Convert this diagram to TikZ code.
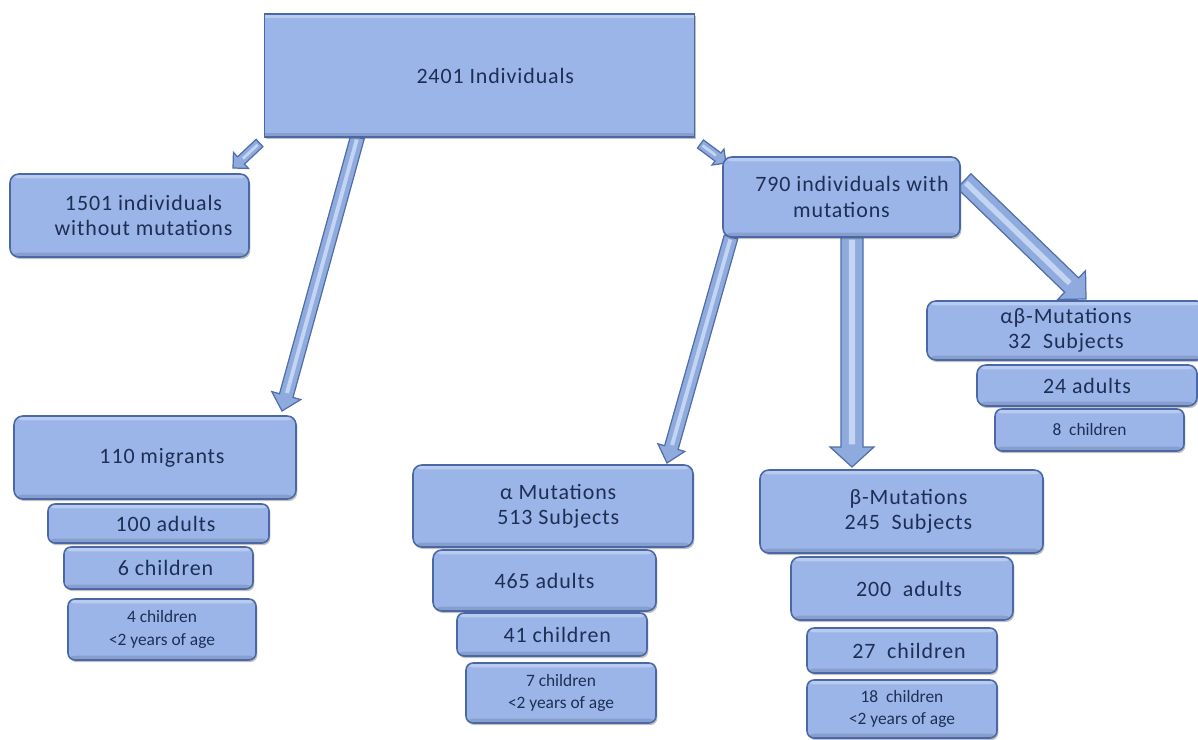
\documentclass[tikz,border=0pt]{standalone}
\usepackage{fontspec}
\setmainfont{Carlito}
\newfontfamily\spaced{Carlito}[LetterSpace=4]
\usetikzlibrary{calc,shadows}
\definecolor{boxfill}{HTML}{9BB5E9}
\definecolor{boxedge}{HTML}{4A68A6}
\definecolor{txt}{HTML}{1E2E55}
\definecolor{arrfill}{HTML}{8FAADD}
\definecolor{arredge}{HTML}{4F6EAA}
\definecolor{arrhi}{HTML}{C4D5F3}
\pgfdeclarelayer{bg}
\pgfsetlayers{bg,main}
\newcommand\mainsz{\spaced\fontsize{12.5}{14.4}\selectfont}
\newcommand\smallsz{\fontsize{9.9}{13}\selectfont}
\newcommand\barrow[5]{%
  \pgfmathsetmacro\bsw{#3*0.02}%
  \pgfmathsetmacro\bhw{#4*0.02}%
  \pgfmathsetmacro\bhl{#5*0.02}%
  \pgfmathsetmacro\bhi{#3*0.02*0.55}%
  \coordinate (hb) at ($(#2)!\bhl cm!(#1)$);
  \filldraw[arr] ($(#1)!\bsw cm!90:(#2)$) -- ($(hb)!\bsw cm!-90:(#1)$) -- ($(hb)!\bhw cm!-90:(#1)$) -- (#2) -- ($(hb)!\bhw cm!90:(#1)$) -- ($(hb)!\bsw cm!90:(#1)$) -- ($(#1)!\bsw cm!-90:(#2)$) -- cycle;
  \draw[arrhi, line width=\bhi cm] ($(#1)!1.5pt!(#2)$) -- ($(hb)!1.5pt!(#1)$);
}
\tikzset{
  sz/.style 2 args={minimum width=#1*0.02cm, minimum height=#2*0.02cm},
  bx/.style={draw=boxedge, fill=boxfill, line width=0.9pt, text=txt, align=center,
    inner sep=0pt, outer sep=0pt, rounded corners=5pt, font=\mainsz,
    drop shadow={shadow xshift=0.8pt, shadow yshift=-1.2pt, opacity=0.35, fill=black!70},
    path picture={
      \fill[white, opacity=0.3] (path picture bounding box.north west) rectangle ([yshift=-2.5pt]path picture bounding box.north east);
      \fill[black, opacity=0.12] (path picture bounding box.south west) rectangle ([yshift=2.5pt]path picture bounding box.south east);
    }},
  small/.style={font=\smallsz, rounded corners=4pt},
  arr/.style={fill=arrfill, draw=arredge, line width=0.7pt, line join=miter},
}
\begin{document}
\begin{tikzpicture}[x=0.02cm, y=-0.02cm]
\useasboundingbox (0,0) rectangle (1198,740);
\clip (0,0) rectangle (1198,740);

\node[bx, sz={430}{123}, rounded corners=0pt] (top) at (479.5,75.5) {\hspace*{18pt}2401 Individuals};
\node[bx, sz={239}{83}] (n1501) at (129.5,215.5) {\hspace*{16pt}1501 individuals\\\hspace*{16pt}without mutations};
\node[bx, sz={237}{80}] (n790) at (841.5,197) {\hspace*{12pt}790 individuals with\\mutations};

\node[bx, sz={278}{59}] (nab) at (1066,330.5) {αβ-Mutations\\32~ Subjects};
\node[bx, sz={220}{41}] (nab2) at (1087,385.5) {24 adults};
\node[bx, small, sz={189}{42}] (nab3) at (1089.5,430) {8~ children};

\node[bx, sz={282}{83}] (nmig) at (155,457.5) {\hspace*{8pt}110 migrants};
\node[bx, small, sz={221}{39}, font=\mainsz] (nmig2) at (158.5,523.5) {\hspace*{8pt}100 adults};
\node[bx, small, sz={189}{42}, font=\mainsz] (nmig3) at (158.5,568) {\hspace*{8pt}6 children};
\node[bx, small, sz={188}{61}] (nmig4) at (162,629.5) {4 children\\<2 years of age};

\node[bx, sz={280}{82}] (na) at (553,506) {\hspace*{6pt}α Mutations\\\hspace*{6pt}513 Subjects};
\node[bx, sz={223}{61}] (na2) at (544.5,580.5) {465 adults};
\node[bx, small, sz={190}{43}, font=\mainsz] (na3) at (552,634.5) {\hspace*{6pt}41 children};
\node[bx, small, sz={190}{60}] (na4) at (561,693) {7 children\\<2 years of age};

\node[bx, sz={283}{83}] (nb) at (901.5,511.5) {\hspace*{8pt}β-Mutations\\\hspace*{8pt}245~ Subjects};
\node[bx, sz={222}{63}] (nb2) at (902,588.5) {\hspace*{8pt}200~ adults};
\node[bx, small, sz={190}{45}, font=\mainsz] (nb3) at (902,650.5) {\hspace*{8pt}27~ children};
\node[bx, small, sz={190}{58}] (nb4) at (902,709) {18~ children\\<2 years of age};

\coordinate (as) at ($(top.south west)+(-5,6)$);
\coordinate (ae) at ($(n1501.north east)+(-16,-6)$);
\coordinate (bs) at ($(top.south west)+(93,0)$);
\coordinate (be) at ($(nmig.north)+(127,-5)$);
\coordinate (cs) at ($(top.south east)+(6,7)$);
\coordinate (ce) at ($(n790.north west)+(3,6)$);
\coordinate (ds) at ($(n790.south west)+(8,0)$);
\coordinate (de) at ($(na.north east)+(-26,-2)$);
\coordinate (es) at ($(n790.south)+(10.5,0)$);
\coordinate (ee) at ($(nb.north)+(-49.5,-3)$);
\coordinate (fs) at ($(n790.east)+(4,-16)$);
\coordinate (fe) at ($(nab.north west)+(159,-2)$);

\begin{pgfonlayer}{bg}
\barrow{as}{ae}{5}{11}{11}
\barrow{bs}{be}{7}{15}{16}
\barrow{cs}{ce}{5}{10}{10}
\barrow{ds}{de}{7}{14}{16}
\barrow{es}{ee}{11}{22}{20}
\barrow{fs}{fe}{10}{20}{20}
\end{pgfonlayer}
\end{tikzpicture}
\end{document}
